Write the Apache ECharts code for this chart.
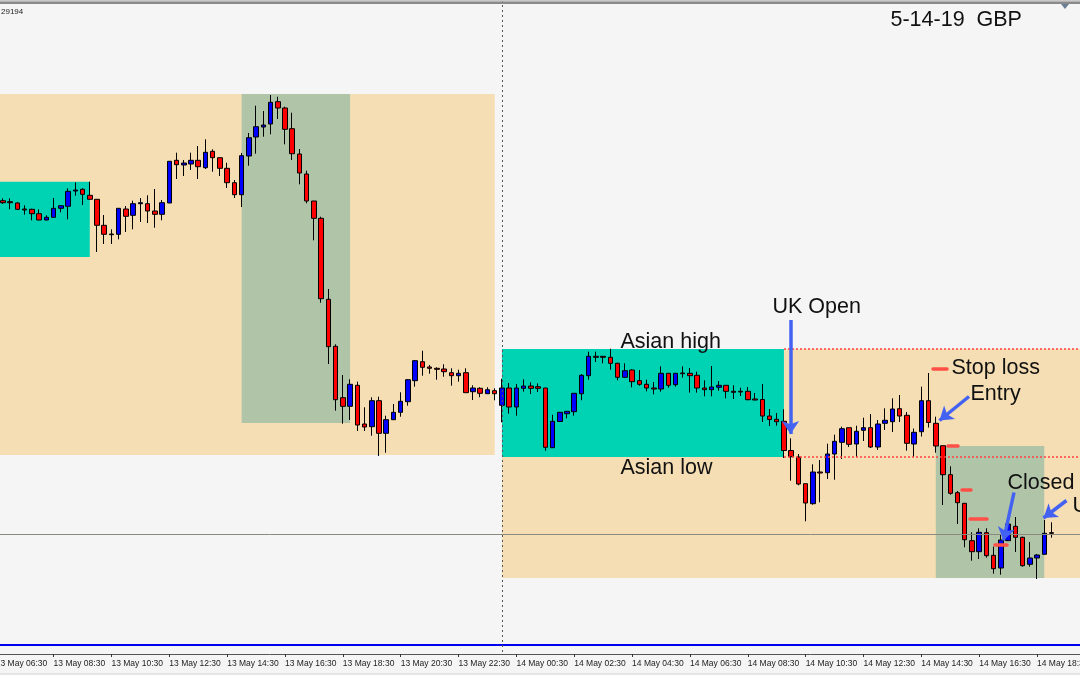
<!DOCTYPE html>
<html><head><meta charset="utf-8">
<style>html,body{margin:0;padding:0;background:#f5f5f5;overflow:hidden}#c{width:1080px;height:675px}</style>
<script src="https://cdn.jsdelivr.net/npm/echarts@6/dist/echarts.min.js"></script>
</head><body><div id="c"></div>
<script>
// M15 GBP candles. Prices are chart points (1 point = 0.2 pip).
const opens=[799.3,798.3,797,791,790.7,786.3,780,782.7,791.7,793.7,809,810.7,804.7,800.7,774.7,766,765.7,791,784.7,796.3,796.3,789,785.7,797,839.7,835,836,839.7,832.3,848.7,842.3,831.7,817.3,805.3,844,863,873,876,898.3,892,871.3,846,826,799,781.7,700.7,653.7,602.3,593.7,614.7,576,573.3,599.3,566.7,580.3,587.7,598.3,619.3,638.3,633,631.7,631,627.3,624.3,627.3,608.3,611.7,606.3,609.3,594.7,612,593,611.7,614,613.3,612,552.3,578.5,586.3,588.3,606.3,624.3,643.7,643.7,642.7,636.7,622.7,630,619.3,615.7,612,611,626.7,615.3,627,626.7,624.7,612,610.3,612.7,614.7,608.7,608.7,608.7,601,600.5,584,580.7,578.7,549.5,543,516.3,496.3,528,527.3,546,557.7,572.3,556,569.7,572.3,553,576.7,578.3,591.3,584.7,556,568.3,599.3,576.7,554.3,525.3,507.3,496.7,459.3,448.3,467.3,444.7,432,459.3,473.7,462.7,435.7,442,445.7,467.3];
const closes=[797.3,797.3,790.7,790,786.3,780,782.7,791.7,794.3,808.7,810,805.7,800.7,774.7,765.7,765.3,791.7,783.7,796.3,797.3,789,785.7,797.3,838.7,835.3,837,839.7,833.3,847.7,842.3,831.7,817.3,805.3,844.3,862.3,873.3,875,897.7,892,870.7,846.3,827,799,781.7,701.3,653.3,600.3,593.7,615.7,575,573,599.3,566.7,580.3,587.7,598.7,620.3,639.3,632.7,631.7,630.7,628.3,624.3,626.7,607.3,612,606.7,610.3,606.3,612,593,612,614,611.7,611.7,552.7,578.7,587.7,588.7,606.7,624.7,643.7,642.7,642.7,636.7,622.7,629.3,618.3,615.7,612,611,626.7,614.7,626.7,626.3,624.3,612,610.3,613,614.7,608.7,607.7,608,600.3,600,584,580.5,578.3,549.5,543.3,516,497,528,527,546,558.7,571.3,555.7,568.7,572.3,553,576,579.7,591,584,556.7,567.7,599.3,577.5,554,525.3,506.7,497.3,460.3,448.3,467.7,444.3,431.3,460,476,462.7,434.3,442,445,466.7,466.7];
const lows=[796,790.7,790.3,785.3,779.7,779.7,779.7,782.7,787.7,780.7,804.3,795,800.7,748,756,756,760.7,768,770.7,778,777,772.3,779.7,797,821,824,830,821,831,828.3,824,812,802,793,834.3,846.3,863.3,865.7,881,855.7,840,815.7,796.7,759.7,697.3,636,589.3,576.3,580,569,569,564.3,544,547.3,580,583.3,594.3,613.3,624.3,626.3,620.3,623.3,614.3,618.3,607.3,600,602.7,606.3,599.7,577.7,586.3,584.3,608.3,606,608,549.3,552.3,578.3,581.7,584.3,599.7,620.3,638,636.7,630.3,619.7,622.3,612.7,614.3,608.7,605.7,608.3,612.3,613.3,622.3,607.3,607.3,603.7,603.7,609.3,601.7,601,604,599.7,599.7,578,574,574.3,542,519.3,514.7,478.7,495.3,497.7,521,520.3,541,553,543,559,552,550,570,568,578,549.3,543,563.5,572.5,547.3,495,505.3,476,452.7,439.3,441,442.3,426.3,425.3,459,448,433.3,433.3,421,445.7,462.3];
const highs=[801.7,801.7,797.7,794.7,791.3,790.7,784.7,802,794.3,811.7,817.7,811.7,818.3,800.7,785,770.7,791.7,794,799.3,802,804.7,811,800,838.7,847.3,840,847.3,854,860.7,850.7,842.3,837.3,820,847,867,894.3,889,905,903.3,893.3,887.3,851,829.3,799,783.3,711,655.7,625,620.7,618.3,592.7,602.7,603.3,584.3,596,607.7,621,640,649.3,635,632.7,635.7,631.7,630.3,631.7,614.7,612.7,612.7,611.7,621.3,617,616,620.7,617.7,616.7,612,585.3,588,589,606.7,626,648.3,648.3,644,651.3,637.3,636.7,630.7,630,620.3,618,633.7,626.7,626.7,633.7,632,628.3,619.7,634,619,614.7,614.7,612.3,613,607,616,591,587,590.7,561.7,546,516.3,535.7,540,556.3,565.3,573.3,572.3,574.3,582.3,586,580,591.7,601.7,605,588,571.5,613.3,627,583.3,554.3,533.7,509,496.7,467.7,471.7,471.7,453.3,465,481,483,463.3,458,446,480,477.7];
const tickLabels=['13 May 06:30','13 May 08:30','13 May 10:30','13 May 12:30','13 May 14:30','13 May 16:30','13 May 18:30','13 May 20:30','13 May 22:30','14 May 00:30','14 May 02:30','14 May 04:30','14 May 06:30','14 May 08:30','14 May 10:30','14 May 12:30','14 May 14:30','14 May 16:30','14 May 18:30'];

// Session boxes anchored to bar numbers (0 = first drawn candle) and price points.
const orangeBoxes=[[-1,68,906,545],[69,150,651,422]];
const tealBoxes=[[-1,12,818.3,743],[69,108,651,543]];
const greenBoxes=[[33,48,906,577],[129,144,554,422]];
const asianHigh=651, asianLow=543, lastPrice=466, bluePrice=355.5;

const BARS=152, BARW=7.231, GLEFT=3-BARW*1.5, GTOP=0, GH=654, VMAX=1000, VMIN=346;
const categories=[];
for(let i=0;i<BARS;i++){
  const t=tickLabels[Math.floor(i/8)];
  categories.push(i%8===0&&t?t:'b'+i);
}
const rows=[['-','-','-','-']];
opens.forEach((o,i)=>rows.push([o,closes[i],lows[i],highs[i]]));
const boxes=(list,color)=>list.map(b=>[
  {xAxis:b[0]+1,yAxis:b[2],itemStyle:{color:color,opacity:1}},
  {xAxis:Math.min(b[1]+1,BARS-1),yAxis:b[3]}]);

// Annotation layer: x on a plain screen-scale axis, y in price points.
const AX0=GLEFT, AX1=GLEFT+BARS*BARW;
const seg=(x1,v1,x2,v2,style,sym)=>[
  {coord:[x1,v1],symbol:'none',lineStyle:style},
  {coord:[x2,v2],symbol:sym||'none',symbolSize:sym?13:0}];
const red={color:'#ff5048',width:3.5,type:'solid',cap:'round'};
const arrow={color:'#4462f2',width:3.5,type:'solid'};
const dotted={color:'#ff4040',width:1.5,type:[2,2]};
const lines=[
  seg(AX0,lastPrice,AX1,lastPrice,{color:'#8a8a80',width:1,type:'solid'}),
  seg(AX0,bluePrice,AX1,bluePrice,{color:'#0000f0',width:2,type:'solid'}),
  seg(784,asianHigh,AX1,asianHigh,dotted),
  seg(784,asianLow,AX1,asianLow,dotted),
  seg(502,VMAX,502,VMIN,{color:'#555',width:1,type:[2,3]}),
  seg(933,631.7,947,631.7,red),
  seg(948,554,958,554,red),
  seg(962,510.7,971,510.7,red),
  seg(970,481.7,987,481.7,red),
  seg(995,455.3,1007,455.3,red),
  seg(790.5,680,790.5,566,arrow,'arrow'),
  seg(969,603.5,939.5,579.5,arrow,'arrow'),
  seg(1014,507.5,1003.5,459.5,arrow,'arrow'),
  seg(1066.5,499.5,1043.5,482,arrow,'arrow')
];
const notes=[['UK Open',772,693],['Asian high',620,658],['Asian low',620,532],['Stop loss',951,632],['Entry',970,606],['Closed',1007,517],['U',1072,494],['5-14-19  GBP',890,980]];

const chart=echarts.init(document.getElementById('c'),null,{renderer:'canvas'});
chart.setOption({
  animation:false,
  backgroundColor:'#f5f5f5',
  grid:{left:GLEFT,top:GTOP,width:BARS*BARW,height:GH,containLabel:false,show:false,outerBoundsMode:'none'},
  xAxis:[
    {type:'category',data:categories,boundaryGap:true,
     axisLine:{show:true,lineStyle:{color:'#555',width:1}},
     axisTick:{show:true,alignWithLabel:true,length:3,interval:(i)=>i%8===0,lineStyle:{color:'#333'}},
     axisLabel:{show:true,interval:(i)=>i%8===0,align:'left',margin:5,fontFamily:'Liberation Sans',fontSize:8.5,color:'#222',formatter:(v)=>v[0]==='b'?'':v},
     splitLine:{show:false}},
    {type:'value',min:AX0,max:AX1,show:false,position:'top',splitLine:{show:false}}
  ],
  yAxis:{type:'value',min:VMIN,max:VMAX,show:false,splitLine:{show:false}},
  series:[
    {type:'candlestick',xAxisIndex:0,yAxisIndex:0,barWidth:5,data:rows,silent:true,z:3,
     itemStyle:{color:'#0000ff',color0:'#ff0000',borderColor:'#000',borderColor0:'#000',borderColorDoji:'#000',borderWidth:1},
     markArea:{silent:true,z:1,data:[...boxes(orangeBoxes,'#f5deb3'),...boxes(tealBoxes,'#00d2b4'),...boxes(greenBoxes,'#b0c4a8')]}},
    {type:'line',xAxisIndex:1,yAxisIndex:0,data:[],silent:true,z:5,
     markLine:{silent:true,z:5,animation:false,label:{show:false},emphasis:{disabled:true},data:lines}},
    {type:'scatter',xAxisIndex:1,yAxisIndex:0,silent:true,z:6,symbolSize:1,itemStyle:{color:'transparent'},
     data:notes.map(n=>({value:[n[1],n[2]],label:{show:true,formatter:n[0],position:'right',distance:0,fontFamily:'Liberation Sans',fontSize:21.5,color:'#111',opacity:1}}))}
  ],
  graphic:[
    {type:'rect',silent:true,shape:{x:0,y:0,width:1080,height:1.5},style:{fill:'#c8c8c8'},z:10},
    {type:'rect',silent:true,shape:{x:0,y:1.5,width:1080,height:2.5},style:{fill:'#8a8a8a'},z:10},
    {type:'polygon',silent:true,shape:{points:[[1061,4],[1069,4],[1065,9]]},style:{fill:'#6a7f96'},z:10},
    {type:'rect',silent:true,shape:{x:0,y:673,width:1080,height:2},style:{fill:'#e6e6e6'},z:10},
    {type:'text',silent:true,x:1,y:7.5,style:{text:'29194',font:'8px "Liberation Sans"',fill:'#222'},z:10}
  ]
});
</script></body></html>
